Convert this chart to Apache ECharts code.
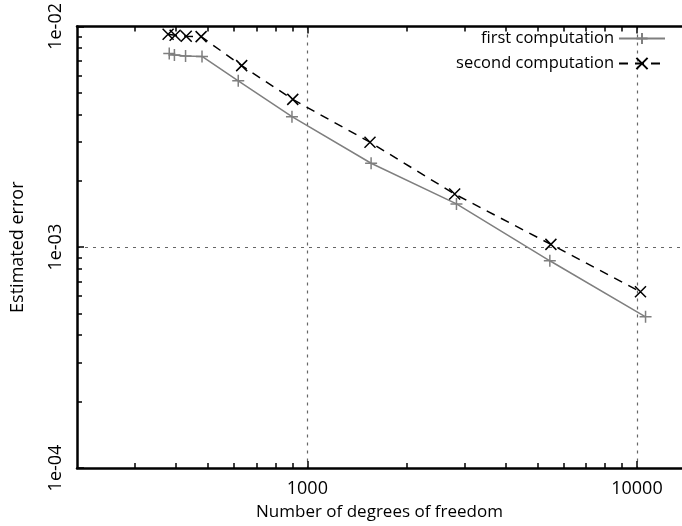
<!DOCTYPE html>
<html>
<head>
<meta charset="utf-8">
<script src="https://cdn.jsdelivr.net/npm/echarts@6/dist/echarts.min.js"></script>
<style>html,body{margin:0;padding:0;background:#fff}#chart{width:682px;height:526px}</style>
</head>
<body>
<div id="chart"></div>
<script>
var dofFirst=[381,395,427,479,617,898,1561,2834,5441,10620];
var errFirst=[0.00753,0.00742,0.00734,0.00731,0.00567,0.00390,0.00240,0.00157,0.000868,0.000484];
var dofSecond=[378,397,429,476,632,903,1549,2799,5482,10250];
var errSecond=[0.00921,0.00912,0.00902,0.00899,0.00664,0.00467,0.00299,0.00174,0.00103,0.000628];

// tick positions
var xMajor=[1000,10000];
var xMinor=[300,400,500,600,700,800,900,2000,3000,4000,5000,6000,7000,8000,9000];
var yMajor=[0.0001,0.001,0.01];
var yMinor=[0.0002,0.0003,0.0004,0.0005,0.0006,0.0007,0.0008,0.0009,0.002,0.003,0.004,0.005,0.006,0.007,0.008,0.009];

var FONT='Open Sans';
var grey='#7f7f7f';

function pairs(xs,ys){
	var out=[];
	for(var i=0;i<xs.length;i++) out.push([xs[i],ys[i]]);
	return out;
}

function yFmt(v){
	var e=Math.round(-Math.log10(v));
	return '1e-'+(e<10?'0':'')+e;
}

var gridLine={show:true,lineStyle:{color:'#666',width:1.2,type:[3,5]}};

function xAxis(pos,ticks,len,opts){
	var a={
		type:'log',min:200,max:13700,position:pos,
		axisLine:{show:false},
		axisTick:{show:true,inside:true,length:len,customValues:ticks,lineStyle:{color:'#000',width:1.5}},
		axisLabel:{show:false},
		splitLine:{show:false}
	};
	for(var k in opts) a[k]=opts[k];
	return a;
}
function yAxis(ticks,len,opts){
	var a={
		type:'log',min:0.0001,max:0.01,position:'left',
		axisLine:{show:false},
		axisTick:{show:true,inside:true,length:len,customValues:ticks,lineStyle:{color:'#000',width:1.5}},
		axisLabel:{show:false},
		splitLine:{show:false}
	};
	for(var k in opts) a[k]=opts[k];
	return a;
}

var myChart=echarts.init(document.getElementById('chart'));
var option={
	animation:false,
	backgroundColor:'#fff',
	textStyle:{fontFamily:FONT},
	grid:{left:77,top:22,right:-3,bottom:57,containLabel:false},
	legend:{
		orient:'vertical',right:11,top:25,align:'right',
		itemWidth:46,itemHeight:14,itemGap:8,
		textStyle:{fontFamily:FONT,fontSize:16.5,color:'#000'},
		data:['first computation','second computation']
	},
	xAxis:[
		xAxis('bottom',xMajor,7,{
			axisLine:{show:true,onZero:false,lineStyle:{color:'#000',width:2.5}},
			axisLabel:{show:true,customValues:xMajor,formatter:function(v){return String(v);},fontFamily:FONT,fontSize:18,color:'#000',margin:12},
			splitLine:gridLine,
			name:'Number of degrees of freedom',nameLocation:'middle',nameGap:36,
			nameTextStyle:{fontFamily:FONT,fontSize:17,color:'#000'}
		}),
		xAxis('bottom',xMinor,5,{}),
		xAxis('top',xMajor,7,{axisLine:{show:true,onZero:false,lineStyle:{color:'#000',width:2.5}}}),
		xAxis('top',xMinor,5,{})
	],
	yAxis:[
		yAxis(yMajor,7,{
			axisLine:{show:true,onZero:false,lineStyle:{color:'#000',width:2.5}},
			axisLabel:{show:true,customValues:yMajor,rotate:90,formatter:yFmt,fontFamily:FONT,fontSize:18,color:'#000',margin:12},
			splitLine:gridLine,
			name:'Estimated error',nameLocation:'middle',nameGap:50,
			nameTextStyle:{fontFamily:FONT,fontSize:18,color:'#000'}
		}),
		yAxis(yMinor,5,{})
	],
	series:[{
		name:'first computation',
		type:'line',
		data:pairs(dofFirst,errFirst),
		symbol:'path://M0,6H12M6,0V12',
		symbolSize:12,
		lineStyle:{color:grey,width:1.5},
		itemStyle:{color:grey,borderColor:grey,borderWidth:1.5}
	},{
		name:'second computation',
		type:'line',
		data:pairs(dofSecond,errSecond),
		symbol:'path://M0,0L12,12M12,0L0,12',
		symbolSize:11,
		lineStyle:{color:'#000',width:1.5,type:[9,7]},
		itemStyle:{color:'#000',borderColor:'#000',borderWidth:1.5}
	}]
};
myChart.setOption(option);
</script>
</body>
</html>
